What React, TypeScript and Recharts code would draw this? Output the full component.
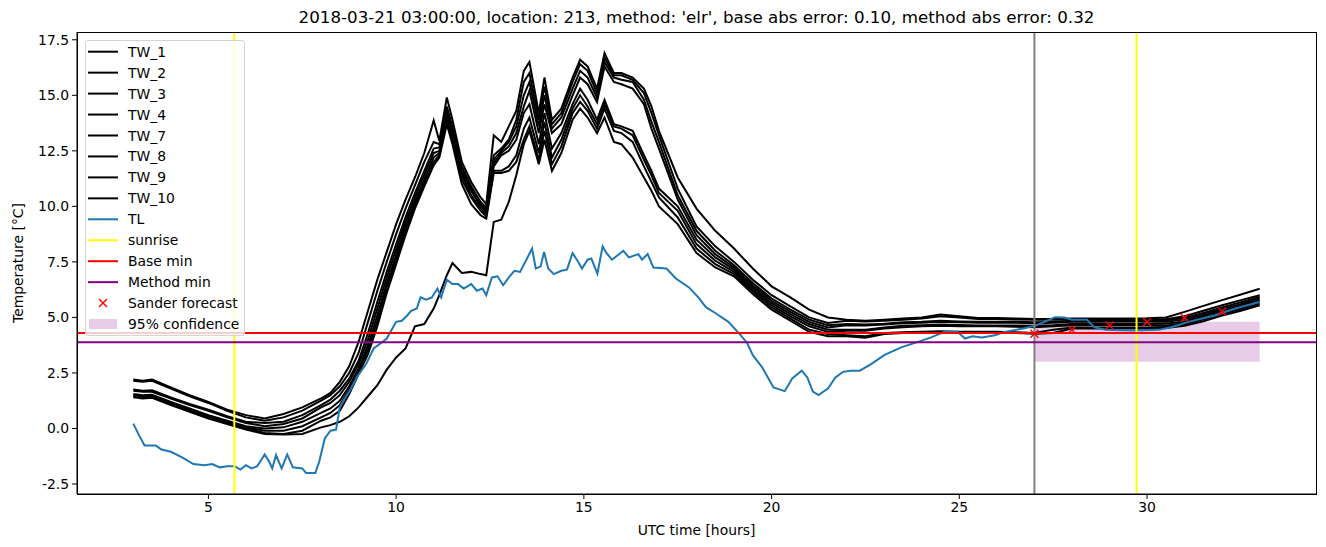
import React from 'react';
import {
  ComposedChart,
  Line,
  Scatter,
  XAxis,
  YAxis,
  ReferenceLine,
  ReferenceArea,
} from 'recharts';

// shared time grid (UTC hours) for the TW series
const hours = [
  3, 3.25, 3.5, 4, 4.5, 5, 5.5, 6, 6.5, 7, 7.5, 8, 8.25, 8.5, 8.75, 9, 9.25, 9.5, 9.75, 10,
  10.25, 10.5, 10.75, 11, 11.15, 11.35, 11.5, 11.75, 12, 12.25, 12.4, 12.6, 12.8, 13, 13.2, 13.4,
  13.55, 13.8, 13.95, 14.15, 14.4, 14.7, 14.9, 15.1, 15.35, 15.55, 15.8, 16, 16.3, 16.6, 16.8, 17,
  17.5, 18, 18.5, 19, 19.5, 20, 20.5, 21, 21.5, 22, 22.5, 23, 23.5, 24, 24.5, 25, 25.5, 26, 26.5,
  27, 27.5, 28, 28.5, 29, 29.5, 30, 30.5, 31, 31.5, 32, 32.5, 33,
];

const tw1 = [
  2.2, 2.15, 2.2, 1.85, 1.5, 1.2, 0.85, 0.6, 0.45, 0.65, 0.95, 1.35, 1.6, 2.1, 2.8, 3.9, 5.3, 6.7, 7.95, 9.2,
  10.3, 11.3, 12.4, 13.87, 12.95, 14.9, 13.9, 12.0, 11.1, 10.4, 10.1, 13.2, 12.9, 13.6, 14.3, 16.1,
  16.5, 14.2, 15.8, 13.9, 14.4, 15.8, 16.6, 16.3, 15.3, 16.9, 16.0, 16.0, 15.8, 15.3, 14.5, 13.4,
  11.3, 9.9, 8.9, 8.1, 7.2, 6.4, 5.9, 5.35, 5.0, 4.9, 4.85, 4.9, 4.95, 5.0, 5.13, 5.05, 4.97, 4.97, 4.95,
  4.93, 4.93, 4.95, 4.95, 4.95, 4.95, 4.96, 5.0, 5.25, 5.52, 5.78, 6.03, 6.29,
];
const tw2 = [
  2.15, 2.1, 2.15, 1.8, 1.45, 1.15, 0.8, 0.5, 0.35, 0.5, 0.8, 1.25, 1.5, 1.9, 2.5, 3.4, 4.8, 6.2, 7.5, 8.75,
  9.9, 10.95, 12.0, 12.9, 12.8, 14.5, 13.6, 11.8, 10.9, 10.2, 9.95, 12.3, 12.6, 13.0, 13.9, 15.6,
  16.0, 13.9, 15.4, 13.7, 14.2, 15.6, 16.4, 16.1, 15.1, 16.7, 15.9, 15.9, 15.7, 15.1, 14.2, 13.2,
  10.8, 9.1, 8.2, 7.5, 6.7, 6.0, 5.5, 5.0, 4.75, 4.85, 4.82, 4.85, 4.9, 4.95, 5.05, 5.0, 4.93, 4.93, 4.91,
  4.9, 4.9, 4.92, 4.92, 4.92, 4.92, 4.92, 4.92, 5.05, 5.3, 5.55, 5.78, 6.0,
];
const tw3 = [
  1.75, 1.7, 1.72, 1.4, 1.1, 0.85, 0.55, 0.3, 0.25, 0.3, 0.6, 1.05, 1.3, 1.7, 2.25, 3.05, 4.3, 5.7, 7.05, 8.3,
  9.5, 10.6, 11.6, 12.6, 12.65, 14.3, 13.4, 11.6, 10.8, 10.1, 9.85, 12.1, 12.5, 12.9, 13.6, 15.0,
  15.6, 13.6, 15.0, 13.5, 14.0, 15.3, 16.1, 15.8, 14.9, 16.5, 15.8, 15.7, 15.6, 14.8, 13.8, 12.9,
  10.5, 8.9, 8.0, 7.35, 6.55, 5.85, 5.35, 4.9, 4.65, 4.7, 4.68, 4.72, 4.78, 4.8, 4.85, 4.82, 4.8, 4.8, 4.8,
  4.78, 4.8, 4.85, 4.85, 4.85, 4.85, 4.86, 4.87, 4.97, 5.2, 5.45, 5.68, 5.92,
];
const tw4 = [
  1.7, 1.65, 1.65, 1.35, 1.05, 0.8, 0.5, 0.25, 0.1, 0.2, 0.45, 0.95, 1.15, 1.5, 2.1, 2.9, 4.0, 5.4, 6.8, 8.05,
  9.3, 10.4, 11.4, 12.4, 12.5, 14.1, 13.3, 11.5, 10.7, 10.0, 9.75, 11.95, 12.4, 12.7, 13.3, 14.5,
  15.2, 13.3, 14.6, 13.3, 13.7, 15.0, 15.8, 15.5, 14.7, 16.3, 15.6, 15.5, 15.3, 14.6, 13.5, 12.6,
  10.3, 8.7, 7.85, 7.25, 6.45, 5.75, 5.25, 4.8, 4.55, 4.65, 4.64, 4.68, 4.74, 4.76, 4.8, 4.78, 4.76, 4.76, 4.76,
  4.74, 4.76, 4.8, 4.8, 4.82, 4.82, 4.82, 4.8, 4.9, 5.12, 5.37, 5.6, 5.85,
];
const tw7 = [
  1.55, 1.5, 1.52, 1.2, 0.9, 0.6, 0.35, 0.1, 0.0, 0.05, 0.3, 0.7, 0.9, 1.25, 1.9, 2.7, 3.75, 5.1, 6.55, 7.8,
  9.1, 10.2, 11.2, 12.2, 12.4, 14.0, 13.2, 11.4, 10.5, 9.9, 9.65, 11.8, 12.3, 12.5, 13.0, 14.2,
  14.6, 12.8, 14.2, 12.6, 13.3, 14.6, 15.3, 14.8, 13.9, 14.8, 13.7, 13.6, 13.4, 12.3, 11.6, 10.8,
  10.0, 8.5, 7.7, 7.15, 6.35, 5.65, 5.15, 4.7, 4.45, 4.45, 4.45, 4.55, 4.62, 4.65, 4.68, 4.66, 4.64, 4.64, 4.64,
  4.62, 4.65, 4.7, 4.72, 4.72, 4.72, 4.72, 4.72, 4.82, 5.05, 5.3, 5.53, 5.78,
];
const tw8 = [
  1.5, 1.45, 1.47, 1.15, 0.85, 0.55, 0.3, 0.05, -0.1, -0.1, 0.1, 0.5, 0.7, 1.05, 1.75, 2.58, 3.55, 4.85, 6.35, 7.6,
  8.9, 10.05, 11.05, 12.0, 12.3, 13.9, 13.0, 11.2, 10.4, 9.8, 9.55, 11.6, 11.6, 11.8, 12.3, 13.5,
  14.0, 12.4, 13.8, 12.2, 13.0, 14.4, 15.0, 14.5, 13.7, 14.6, 13.6, 13.5, 13.2, 12.1, 11.4, 10.6,
  9.8, 8.3, 7.55, 7.05, 6.25, 5.55, 5.05, 4.6, 4.35, 4.4, 4.4, 4.5, 4.56, 4.6, 4.62, 4.6, 4.6, 4.6, 4.58,
  4.56, 4.6, 4.65, 4.66, 4.66, 4.66, 4.66, 4.62, 4.75, 4.97, 5.22, 5.45, 5.7,
];
const tw9 = [
  1.45, 1.4, 1.42, 1.1, 0.8, 0.5, 0.25, 0.0, -0.2, -0.25, -0.1, 0.35, 0.5, 0.8, 1.55, 2.45, 3.35, 4.6, 6.1, 7.4,
  8.7, 9.9, 10.9, 11.85, 12.2, 13.7, 12.8, 11.0, 10.1, 9.6, 9.45, 11.5, 11.5, 11.6, 12.0, 13.0,
  13.6, 12.1, 13.4, 11.9, 12.7, 14.2, 14.7, 14.3, 13.5, 14.4, 13.4, 13.3, 12.9, 11.8, 11.1, 10.4,
  9.5, 8.1, 7.4, 6.95, 6.15, 5.45, 4.95, 4.45, 4.25, 4.2, 4.15, 4.3, 4.33, 4.35, 4.38, 4.36, 4.35, 4.35, 4.33,
  4.3, 4.45, 4.55, 4.55, 4.55, 4.55, 4.55, 4.57, 4.68, 4.9, 5.15, 5.38, 5.62,
];
const tw10 = [
  1.4, 1.35, 1.38, 1.05, 0.75, 0.45, 0.2, -0.05, -0.25, -0.27, -0.25, 0.05, 0.15, 0.3, 0.55, 0.95, 1.45, 1.95, 2.65, 3.2,
  3.6, 4.6, 4.7, 5.4, 6.0, 6.9, 7.45, 7.0, 7.05, 6.95, 6.9, 9.3, 9.4, 10.2, 11.4, 12.8,
  13.4, 11.9, 13.0, 11.6, 12.4, 13.9, 14.4, 14.0, 13.3, 14.0, 12.9, 12.8, 12.2, 11.3, 10.7, 10.0,
  9.2, 7.9, 7.25, 6.85, 6.05, 5.35, 4.85, 4.35, 4.15, 4.15, 4.08, 4.25, 4.3, 4.32, 4.33, 4.32, 4.3, 4.3, 4.3,
  4.27, 4.3, 4.5, 4.5, 4.5, 4.5, 4.5, 4.52, 4.62, 4.83, 5.08, 5.3, 5.55,
];

// TL has its own sampling
const tlHours = [
  3.0, 3.15, 3.3, 3.6, 3.75, 4.0, 4.3, 4.6, 4.9, 5.1, 5.3, 5.5, 5.7, 5.85, 6.0, 6.15, 6.3, 6.5, 6.62, 6.7,
  6.8, 6.95, 7.1, 7.25, 7.5, 7.6, 7.85, 7.95, 8.1, 8.25, 8.4, 8.5, 8.65, 8.8, 8.95, 9.2, 9.4, 9.6, 9.75, 10.0,
  10.15, 10.3, 10.4, 10.55, 10.65, 10.8, 10.95, 11.1, 11.2, 11.35, 11.5, 11.65, 11.8, 12.0, 12.15, 12.3, 12.4, 12.55, 12.7, 12.85,
  13.0, 13.15, 13.3, 13.5, 13.62, 13.72, 13.85, 13.94, 14.05, 14.2, 14.4, 14.55, 14.7, 14.85, 14.95, 15.1, 15.2, 15.36, 15.5, 15.6,
  15.75, 15.9, 16.05, 16.2, 16.45, 16.55, 16.7, 16.85, 17.2, 17.45, 17.8, 18.05, 18.25, 18.5, 18.85, 19.15, 19.35, 19.5, 19.75, 20.05,
  20.35, 20.55, 20.8, 20.95, 21.1, 21.25, 21.5, 21.7, 21.9, 22.1, 22.35, 22.65, 23.0, 23.45, 23.9, 24.25, 24.6, 24.95, 25.15, 25.35,
  25.6, 25.95, 26.2, 26.7, 27.05, 27.35, 27.55, 27.8, 28.0, 28.4, 28.6, 28.9, 29.6, 30.3, 30.65, 31.1, 31.8, 32.35, 33.0,
];
const tlValues = [
  0.22, -0.3, -0.77, -0.77, -0.95, -1.05, -1.3, -1.6, -1.65, -1.6, -1.75, -1.7, -1.7, -1.85, -1.65, -1.8, -1.7, -1.17, -1.5, -1.8,
  -1.2, -1.8, -1.17, -1.75, -1.8, -2.0, -2.0, -1.5, -0.45, -0.1, -0.05, 0.96, 1.4, 1.8, 2.3, 2.9, 3.6, 3.85, 4.05, 4.8,
  4.85, 5.1, 5.3, 5.4, 5.9, 5.8, 5.9, 6.3, 5.9, 6.7, 6.5, 6.5, 6.3, 6.5, 6.2, 6.3, 6.0, 6.8, 6.85, 6.45,
  6.8, 7.1, 7.05, 7.7, 8.1, 7.2, 7.3, 7.95, 7.2, 6.95, 7.1, 7.15, 7.9, 7.5, 7.2, 7.6, 7.65, 6.97, 8.2, 7.9,
  7.6, 7.8, 8.0, 7.7, 7.85, 7.6, 7.85, 7.25, 7.2, 6.75, 6.35, 5.9, 5.46, 5.2, 4.8, 4.25, 3.85, 3.3, 2.75, 1.85,
  1.68, 2.25, 2.6, 2.3, 1.66, 1.5, 1.8, 2.3, 2.55, 2.6, 2.6, 2.9, 3.3, 3.65, 3.9, 4.1, 4.35, 4.35, 4.05, 4.15,
  4.1, 4.2, 4.35, 4.5, 4.64, 4.86, 5.01, 5.0, 4.9, 4.89, 4.55, 4.45, 4.41, 4.44, 4.56, 4.8, 5.09, 5.4, 5.7,
];

const forecastHours = [27, 28, 29, 30, 31, 32];
const forecastValues = [4.26, 4.45, 4.64, 4.79, 4.98, 5.27];

const sunriseHours = [5.69, 29.72];
const forecastStart = 27;
const baseMin = 4.3;
const methodMin = 3.88;
const confidence = { x1: 27, x2: 33, low: 3.0, high: 4.8 };

const xTicks = [5, 10, 15, 20, 25, 30];
const yTicks = [-2.5, 0, 2.5, 5, 7.5, 10, 12.5, 15, 17.5];

const twSeries = [
  { name: 'TW_1', values: tw1 },
  { name: 'TW_2', values: tw2 },
  { name: 'TW_3', values: tw3 },
  { name: 'TW_4', values: tw4 },
  { name: 'TW_7', values: tw7 },
  { name: 'TW_8', values: tw8 },
  { name: 'TW_9', values: tw9 },
  { name: 'TW_10', values: tw10 },
];

const tlData = tlHours.map((h, i) => ({ h, v: tlValues[i] }));
const forecastData = forecastHours.map((h, i) => ({ h, v: forecastValues[i] }));

const FONT = '"DejaVu Sans", sans-serif';
const FS = 13.9;
const LW = 2;

const XMark = (props: any) => {
  const { cx, cy } = props;
  if (cx == null || cy == null) return null;
  const s = 4;
  return (
    <g stroke="#ff0000" strokeWidth={1.4}>
      <line x1={cx - s} y1={cy - s} x2={cx + s} y2={cy + s} />
      <line x1={cx - s} y1={cy + s} x2={cx + s} y2={cy - s} />
    </g>
  );
};

type LegendItem = { label: string; kind: 'line' | 'x' | 'patch'; color: string };
const legendItems: LegendItem[] = [
  ...twSeries.map((s) => ({ label: s.name, kind: 'line' as const, color: '#000000' })),
  { label: 'TL', kind: 'line', color: '#1f77b4' },
  { label: 'sunrise', kind: 'line', color: '#ffff00' },
  { label: 'Base min', kind: 'line', color: '#ff0000' },
  { label: 'Method min', kind: 'line', color: '#800080' },
  { label: 'Sander forecast', kind: 'x', color: '#ff0000' },
  { label: '95% confidence', kind: 'patch', color: '#800080' },
];

const Legend = () => (
  <div
    style={{
      position: 'absolute',
      left: 85,
      top: 40,
      width: 160,
      height: 296,
      boxSizing: 'border-box',
      border: '1px solid #d4d4d4',
      borderRadius: 3,
      background: 'rgba(255,255,255,0.8)',
    }}
  >
    <svg width={160} height={296} style={{ position: 'absolute', left: -1, top: -1 }}>
      {legendItems.map((it, i) => {
        const y = 11.7 + i * 20.95;
        return (
          <g key={it.label}>
            {it.kind === 'line' && (
              <line x1={3} x2={33} y1={y} y2={y} stroke={it.color} strokeWidth={LW} />
            )}
            {it.kind === 'x' && <XMark cx={18} cy={y} />}
            {it.kind === 'patch' && (
              <rect x={4} y={y - 5} width={28} height={10} fill={it.color} fillOpacity={0.2} />
            )}
            <text x={43} y={y} dy="0.36em" fontSize={FS} fontFamily={FONT} fill="#000">
              {it.label}
            </text>
          </g>
        );
      })}
    </svg>
  </div>
);

const App: React.FC = () => {
  const tick = { fontSize: FS, fill: '#000', fontFamily: FONT };
  return (
    <div
      style={{
        position: 'absolute',
        left: 0,
        top: 0,
        width: 1326,
        height: 547,
        background: '#fff',
        fontFamily: FONT,
      }}
    >
      <div
        style={{
          position: 'absolute',
          left: 77,
          width: 1239,
          top: 7,
          lineHeight: '20px',
          fontSize: 16.7,
          textAlign: 'center',
          whiteSpace: 'nowrap',
        }}
      >
        2018-03-21 03:00:00, location: 213, method: 'elr', base abs error: 0.10, method abs error: 0.32
      </div>

      <ComposedChart width={1326} height={547} margin={{ top: 32, right: 10, bottom: 23, left: 17 }}>
        <XAxis
          type="number"
          dataKey="h"
          domain={[1.5, 34.5]}
          ticks={xTicks}
          allowDataOverflow
          height={30}
          tickSize={5}
          tickMargin={3}
          tick={tick}
          axisLine={{ stroke: '#000' }}
          tickLine={{ stroke: '#000' }}
        />
        <YAxis
          type="number"
          dataKey="v"
          domain={[-2.95, 17.85]}
          ticks={yTicks}
          allowDataOverflow
          width={60}
          tickSize={5}
          tickMargin={3}
          tickFormatter={(v: number) => v.toFixed(1)}
          tick={tick}
          axisLine={{ stroke: '#000' }}
          tickLine={{ stroke: '#000' }}
        />
        <ReferenceArea
          x1={confidence.x1}
          x2={confidence.x2}
          y1={confidence.low}
          y2={confidence.high}
          fill="#800080"
          fillOpacity={0.2}
          stroke="none"
        />
        {twSeries.map((s) => (
          <Line
            key={s.name}
            name={s.name}
            data={hours.map((h, i) => ({ h, v: s.values[i] }))}
            dataKey="v"
            type="linear"
            stroke="#000"
            strokeWidth={LW}
            dot={false}
            activeDot={false}
            isAnimationActive={false}
          />
        ))}
        <Line
          name="TL"
          data={tlData}
          dataKey="v"
          type="linear"
          stroke="#1f77b4"
          strokeWidth={LW}
          dot={false}
          activeDot={false}
          isAnimationActive={false}
        />
        <ReferenceLine x={forecastStart} stroke="#808080" strokeWidth={LW} />
        {sunriseHours.map((h) => (
          <ReferenceLine key={h} x={h} stroke="#ffff00" strokeWidth={LW} />
        ))}
        <ReferenceLine y={baseMin} stroke="#ff0000" strokeWidth={LW} />
        <ReferenceLine y={methodMin} stroke="#800080" strokeWidth={LW} />
        <Scatter
          name="Sander forecast"
          data={forecastData}
          dataKey="v"
          shape={XMark}
          isAnimationActive={false}
        />
      </ComposedChart>

      <div
        style={{
          position: 'absolute',
          left: 77,
          top: 32,
          width: 1240,
          height: 463,
          boxSizing: 'border-box',
          border: '1px solid #000',
          pointerEvents: 'none',
        }}
      />

      <Legend />

      <div
        style={{
          position: 'absolute',
          left: 77,
          width: 1239,
          top: 521,
          lineHeight: '18px',
          fontSize: FS,
          textAlign: 'center',
        }}
      >
        UTC time [hours]
      </div>
      <div
        style={{
          position: 'absolute',
          left: 18,
          top: 263,
          fontSize: FS,
          whiteSpace: 'nowrap',
          transform: 'translate(-50%, -50%) rotate(-90deg)',
        }}
      >
        Temperature [°C]
      </div>
    </div>
  );
};

export default App;
